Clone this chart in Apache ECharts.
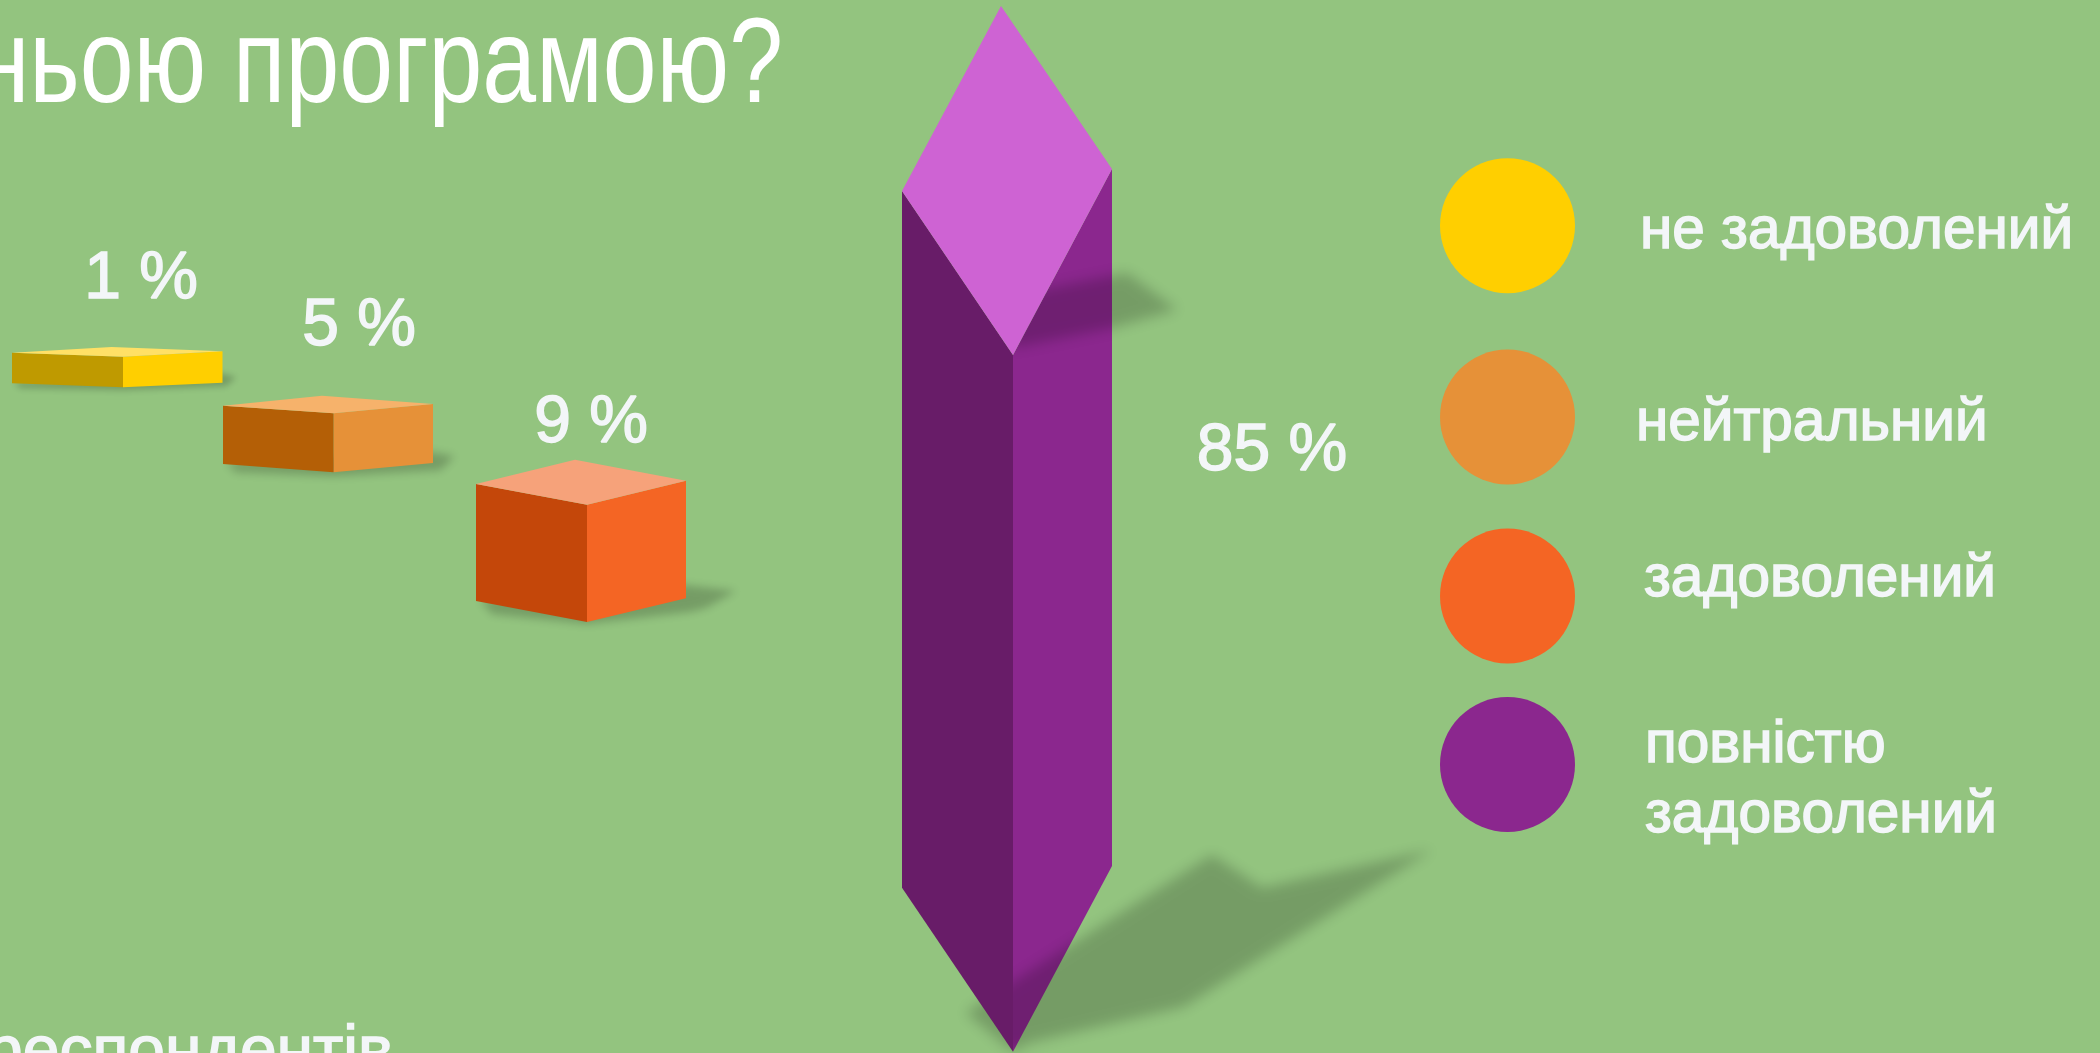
<!DOCTYPE html>
<html>
<head>
<meta charset="utf-8">
<style>html,body{margin:0;padding:0;background:#93c47f}#c{width:2100px;height:1053px}</style>
<script src="https://cdn.jsdelivr.net/npm/echarts@6/dist/echarts.min.js"></script>
</head>
<body>
<div id="c"></div>
<script>
// values as labelled in the picture
const categories = ['не задоволений', 'нейтральний', 'задоволений', 'повністю задоволений'];
const percents = [1, 5, 9, 85];
const colorsFront = ['#ffcf00', '#e69138', '#f46524', '#8b278e'];
const colorsSide = ['#bf9a00', '#b45f06', '#c4470a', '#681c68'];
const colorsTop = ['#ffe066', '#f6b26b', '#f6a27a', '#ce63d3'];

// prism outlines, in axis units
const leftX = [12, 223, 476, 902];
const frontX = [123, 333.5, 587, 1013];
const rightX = [222.5, 433, 686, 1112];
const backX = [111.5, 322, 575, 1001];
const backY = [347, 395.7, 459.7, 6];
const frontTop = [356.7, 413.3, 504.7, 355];
const frontBottom = [387.3, 472.3, 622, 1051.7];
const leftTop = [352.7, 405.7, 484, 191];
const leftBottom = [383.3, 464, 601, 887.7];
const rightTop = [351.3, 404, 480.7, 169];
const rightBottom = [382.7, 463, 598.3, 866];

// cast shadows: offsets from each prism's front-bottom corner
const shadowOutlines = [
  [[[-109, -5], [-103, 1], [0, 3], [103, -1], [113, -10], [99, -14]]],
  [[[-107, -10], [-98, 0], [0, 4], [107, -2], [121, -16], [100, -20]]],
  [[[-107, -22], [-95, -8], [0, 2], [103, -10], [119, -14], [149, -31], [99, -37]]],
  [
    [[-47, -39], [3, -72], [199, -197], [249, -164], [419, -202], [171, -45], [17, -9], [0, 0]],
    [[-13, -754], [114, -779], [164, -742], [100, -724], [0, -704]]
  ]
];
const shadowBlur = [6, 8, 9, 13];

// value-label and legend anchors
const labelX = [141, 359, 591, 1272];
const labelBaseline = [298.5, 345.5, 442.5, 470];
const legendX = [1507.5, 1507.5, 1507.5, 1507.5];
const legendY = [225.7, 417, 596, 764.5];
const legendTextX = [1640, 1636, 1644, 1645];
const legendLines = [['не задоволений'], ['нейтральний'], ['задоволений'], ['повністю', 'задоволений']];
const legendBaselines = [[248], [440], [596.5], [762, 832]];

const FONT = '"Liberation Sans", Arial, sans-serif';
const TXT = '#f3f6f8';
const BASE = 0.28; // canvas "middle" to alphabetic baseline, in em
const rows = categories.map((c, i) => [frontX[i], frontBottom[i], percents[i], i]);

function pts(api, list) { return list.map(p => api.coord(p)); }
function poly(api, list, fill) {
  return { type: 'polygon', shape: { points: pts(api, list) }, style: { fill: fill } };
}
function blurred(api, list, blur) {
  const off = 4000;
  const points = pts(api, list).map(p => [p[0] - off, p[1]]);
  return { type: 'polygon', shape: { points }, style: { fill: '#000', shadowColor: 'rgba(0,0,0,0.2)', shadowBlur: blur, shadowOffsetX: off, shadowOffsetY: 0 } };
}
function baselineText(api, text, x, base, size, opt) {
  const c = api.coord([x, base]);
  return { type: 'text', x: c[0], y: c[1] - BASE * size, style: Object.assign({
    text, font: size + 'px ' + FONT, fill: TXT, verticalAlign: 'middle', align: 'left' }, opt || {}) };
}
function shadowItem(p, api) {
  const i = api.value(3);
  return { type: 'group', children: shadowOutlines[i].map(o =>
    blurred(api, o.map(d => [frontX[i] + d[0], frontBottom[i] + d[1]]), shadowBlur[i])) };
}

const option = {
  backgroundColor: '#93c47f',
  animation: false,
  grid: { left: 0, right: 0, top: 0, bottom: 0 },
  xAxis: { type: 'value', min: 0, max: 2100, show: false },
  yAxis: { type: 'value', min: 0, max: 1053, inverse: true, show: false },
  tooltip: { show: false },
  series: [
    { name: 'ground shadows', type: 'custom', coordinateSystem: 'cartesian2d', z: 1, data: rows.slice(0, 3), silent: true, renderItem: shadowItem },
    { name: 'right faces', type: 'custom', coordinateSystem: 'cartesian2d', z: 2, data: rows, silent: true,
      renderItem(p, api) { const i = p.dataIndex;
        return poly(api, [[frontX[i], frontTop[i]], [rightX[i], rightTop[i]], [rightX[i], rightBottom[i]], [frontX[i], frontBottom[i]]], colorsFront[i]); } },
    { name: 'tall prism shadow', type: 'custom', coordinateSystem: 'cartesian2d', z: 3, data: rows.slice(3), silent: true, renderItem: shadowItem },
    { name: 'left and top faces', type: 'custom', coordinateSystem: 'cartesian2d', z: 4, data: rows, silent: true,
      renderItem(p, api) { const i = p.dataIndex;
        return { type: 'group', children: [
          poly(api, [[leftX[i], leftTop[i]], [frontX[i], frontTop[i]], [frontX[i], frontBottom[i]], [leftX[i], leftBottom[i]]], colorsSide[i]),
          poly(api, [[backX[i], backY[i]], [rightX[i], rightTop[i]], [frontX[i], frontTop[i]], [leftX[i], leftTop[i]]], colorsTop[i])
        ] }; } },
    { name: 'percent labels', type: 'custom', coordinateSystem: 'cartesian2d', z: 5, data: rows, silent: true,
      renderItem(p, api) { const i = p.dataIndex;
        return baselineText(api, api.value(2) + ' %', labelX[i], labelBaseline[i], 66, { align: 'center', stroke: TXT, lineWidth: 1.5 }); } },
    { name: 'legend', type: 'scatter', coordinateSystem: 'cartesian2d', z: 5, silent: true, symbol: 'circle', symbolSize: 135,
      data: categories.map((c, i) => ({ name: c, value: [legendX[i], legendY[i]], itemStyle: { color: colorsFront[i], opacity: 1 } })) },
    { name: 'legend text', type: 'custom', coordinateSystem: 'cartesian2d', z: 5, data: rows, silent: true,
      renderItem(p, api) { const i = p.dataIndex;
        return { type: 'group', children: legendLines[i].map((t, k) =>
          baselineText(api, t, legendTextX[i], legendBaselines[i][k], 58.5, { stroke: TXT, lineWidth: 1.5 })) }; } }
  ],
  graphic: [
    { type: 'text', x: 783, y: 103 - BASE * 121, scaleX: 0.8, style: { text: 'ньою програмою?', font: '121px ' + FONT, fill: '#ffffff', align: 'right', verticalAlign: 'middle' } },
    { type: 'text', x: 393, y: 1072 - BASE * 66, style: { text: 'респондентів', font: '66px ' + FONT, fill: TXT, stroke: TXT, lineWidth: 1.5, align: 'right', verticalAlign: 'middle' } }
  ]
};
const chart = echarts.init(document.getElementById('c'), null, { renderer: 'canvas', width: 2100, height: 1053 });
chart.setOption(option);
</script>
</body>
</html>
